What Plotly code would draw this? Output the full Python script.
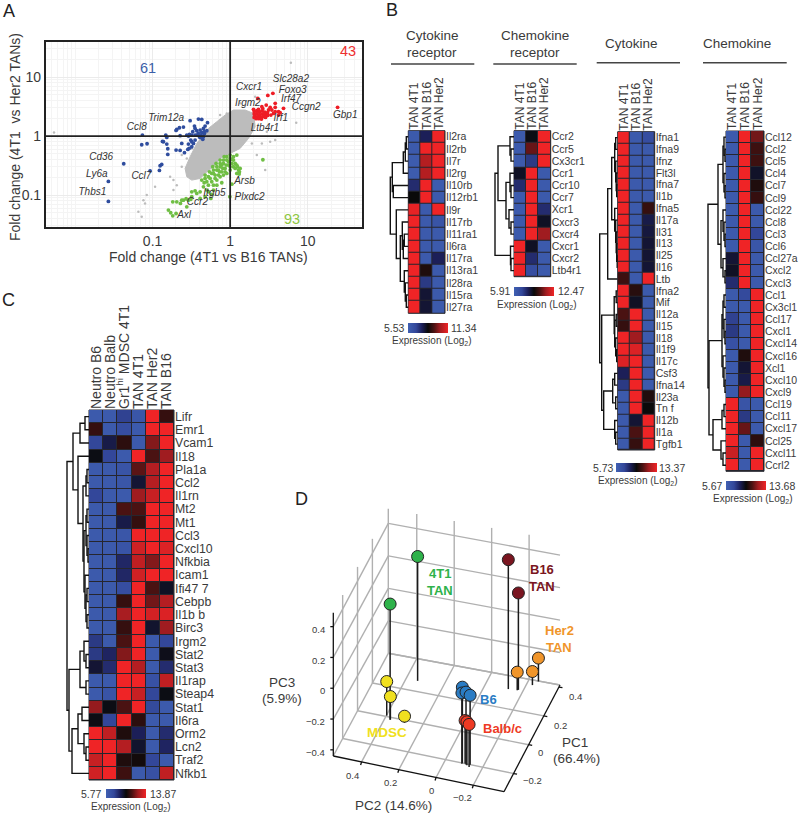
import numpy as np
import plotly.graph_objects as go

W, H = 800, 814
FONT = "Liberation Sans"
TXT = "#3a3a3a"
CS = [[0, "#3f60b2"], [0.2, "#33479a"], [0.35, "#1c1f58"], [0.5, "#0a0a0a"],
      [0.65, "#4a1212"], [0.8, "#a01c20"], [1, "#ef2426"]]

# ---------- Panel A: log10 fold changes ----------
red_x = [.357,.486,.551,.581,.465,.409,.516,.581,.688,.624,1.385,.452,.559,.31,.344,.378,.413,.447,.482,.31,.344,.378,.413,.447,.482,.525,.318,.353,.387,.421,.456,.335,.37,.404,.31,.366,.421,.495,.624,.538,.581,.645,.301]
red_y = [.638,.689,.723,.554,.525,.497,.486,.486,.469,.412,.486,.384,.384,.412,.429,.412,.424,.407,.395,.373,.379,.362,.373,.362,.35,.356,.333,.328,.322,.328,.316,.294,.294,.288,.316,.452,.463,.441,.356,.441,.412,.395,.452]
blue_x = [-1.131,-1.14,-1.071,-.83,-.86,-.817,-.804,-.804,-.873,-1.372,-1.57,-1.57,-1.032,-.903,-.882,-.912,-.688,-.654,-.516,-.409,-.366,-.46,-.482,-.525,-.495,-.43,-.387,-.344,-.292,-.323,-.602,-.697,-.409,-.374,-.344,-.387,-.43,-.331,-.645,-.538,-.495,-.538,-.473,-.529,-.495,-.624,-.645,-.589,-.697,-.546,-.452,-.366,-.396,-.301,-.353,-.335,-.559,-.452,-.508,-.817,-.452]
blue_y = [.017,-.147,-.13,.017,-.096,-.136,-.215,-.311,-.09,-.469,-.768,-1.107,-.588,-.503,-.48,-.582,.113,.141,.26,.288,.282,.169,.073,.028,.017,.09,.102,.13,.226,.169,.153,.096,.045,.017,-.011,-.023,.017,.045,.006,0,-.096,-.136,-.124,-.209,-.181,-.124,-.243,-.282,-.237,-.226,.13,.062,-.011,.09,-.056,.073,.017,.017,-.068,-.023,-.068]
green_x = [.422,.022,-.004,-.74,-.641,-.796,-.766,-.74,-.559,-.568,-.508,-.495,-.452,-.323,-.335,-.28,-.237,-.215,-.172,-.129,-.086,-.043,0,.043,.086,.022,-.022,-.086,-.129,-.172,-.215,-.258,-.301,-.237,-.194,-.151,-.108,-.065,-.022,.022,.065,.108,.12,.086,.043,0,-.065,-.129,-.172,-.108,-.215,-.28,-.237,-.387,-.538,-.43,-.344,-.28,-.215,-.172,-.086,-.043,-.151,-.194,-.108,-.043,0,.043,-.077,-.129,-.366,-.323,-.267,-.224,-.181,-.138,-.095,-.052,0,.065,.095,.129,.116,.086,-.688,-.602,-.624,-.495,-.387,-.301,-.323,-.249,-.697]
green_y = [-.401,-.814,-1.028,-1.113,-1.141,-1.254,-1.299,-1.35,-1.198,-1.062,-1.073,-.944,-.927,-.718,-.791,-.689,-.633,-.576,-.52,-.463,-.407,-.35,-.322,-.35,-.322,-.395,-.435,-.463,-.52,-.576,-.633,-.718,-.774,-.774,-.718,-.661,-.605,-.548,-.492,-.463,-.463,-.576,-.605,-.633,-.52,-.576,-.605,-.689,-.831,-.791,-.915,-.944,-.989,-1.056,-1.085,-.972,-.859,-.831,-.831,-.746,-.661,-.633,-.576,-.661,-.492,-.407,-.379,-.407,-.35,-.407,-.746,-.661,-.605,-.52,-.463,-.605,-.548,-.492,-.52,-.548,-.52,-.548,-.644,-.492,-1.113,-1.085,-1.085,-1.028,-.944,-.915,-1.028,-1.056,-1.311]
gray_x = [.783,.852,.581,.473,-2.271,-.624,-.731,-.774,-.968,-1.075,-1.097,-1.183,-1.14,-1.118,-.731,-.688,-.624,-.559,-.495,-.409,-.387,.344,.452,.28,.409,.516,.215,-.129,-.043,-.215,.323,.129]
gray_y = [1.243,.226,-.068,.073,.062,-.52,-.746,-.689,-.859,-1,-1.141,-1.282,-1.367,-1.085,-.915,-.831,-.322,-.379,-.209,-.181,-.096,-.322,-.576,-.124,-.124,-.096,.328,.356,.384,.158,.667,.554]
cloud_x = [-.559,-.495,-.387,-.301,-.215,-.129,0,.129,.237,.323,.301,.194,.043,-.065,-.172,-.28,-.344,-.43,-.516,-.581]
cloud_y = [-.689,-.746,-.718,-.605,-.52,-.379,-.294,-.209,-.04,.158,.384,.441,.441,.356,.243,.13,.017,-.124,-.35,-.548]
gene_x = [.783,.243,.806,.786,.228,.981,1.484,.653,-.825,.449,-1.204,-1.662,-1.718,-1.144,-1.776,.185,-.202,.25,-.422,-.593]
gene_y = [.96,.819,.773,.62,.554,.486,.344,.299,.299,.13,.141,-.367,-.655,-.678,-.96,-.777,-.977,-1.045,-1.119,-1.339]
gene_names = ["Slc28a2","Cxcr1","Foxo3","Irf47","Irgm2","Ccgn2","Gbp1","Irf1","Trim12a","Ltb4r1","Ccl8","Cd36","Ly6a","Ccl7","Thbs1","Arsb","Itgb5","Plxdc2","Ccr2","Axl"]

# ---------- Panel B ----------
cols_b = ["TAN 4T1", "TAN B16", "TAN Her2"]
cyto_rec_genes = ["Il2ra","Il2rb","Il7r","Il2rg","Il10rb","Il12rb1","Il9r","Il17rb","Il11ra1","Il6ra","Il17ra","Il13ra1","Il28ra","Il15ra","Il27ra"]
cyto_rec_vals = [[.05,.35,1],[.05,1,1],[.03,.85,1],[.03,.85,1],[.3,1,.03],[.5,1,.05],[.98,.05,1],[1,.05,.1],[1,.05,.05],[1,.05,.05],[1,.05,.35],[1,.55,.05],[1,.25,.05],[1,.42,.05],[1,.42,.05]]
chem_rec_genes = ["Ccr2","Ccr5","Cx3cr1","Ccr1","Ccr10","Ccr7","Xcr1","Cxcr3","Cxcr4","Cxcr1","Cxcr2","Ltb4r1"]
chem_rec_vals = [[.05,.48,1],[.05,.7,1],[.05,.25,1],[.45,1,.05],[.3,1,.05],[.05,1,.05],[.05,1,.3],[.05,1,.45],[.05,1,.8],[1,.45,.05],[1,.3,.05],[1,.15,.05]]
cyto_genes = ["Ifna1","Ifna9","Ifnz","Flt3l","Ifna7","Il1b","Ifna5","Il17a","Il31","Il13","Il25","Il16","Ltb","Ifna2","Mif","Il12a","Il15","Il18","Il1f9","Il17c","Csf3","Ifna14","Il23a","Tn f","Il12b","Il1a","Tgfb1"]
cyto_vals = [[1,.05,.15],[1,.05,.05],[1,.05,.05],[1,.05,.05],[1,.05,.05],[1,.05,.05],[1,.05,.6],[1,.05,.38],[1,.05,.4],[1,.05,.42],[1,.05,.42],[1,.05,.42],[.62,.05,1],[1,.57,.05],[1,.45,.05],[.65,1,.05],[.6,1,.05],[1,.8,.05],[1,.95,.05],[.95,1,.05],[.35,1,.05],[.25,1,.05],[.05,1,.55],[.05,1,.5],[.05,.42,1],[.05,.65,1],[.05,.6,1]]
chem_genes = ["Ccl12","Ccl2","Ccl5","Ccl4","Ccl7","Ccl9","Ccl22","Ccl8","Ccl3","Ccl6","Ccl27a","Cxcl2","Cxcl3","Ccl1","Cx3cl1","Ccl17","Cxcl1","Cxcl14","Cxcl16","Xcl1","Cxcl10","Cxcl9","Ccl19","Ccl11","Cxcl17","Ccl25","Cxcl11","Ccrl2"]
chem_vals = [[.05,1,.72],[.05,1,.62],[.05,1,.62],[.05,1,.44],[.05,1,.55],[.05,1,.6],[.03,1,.05],[.05,1,.05],[.05,1,.2],[.05,1,.08],[.42,1,.05],[.45,1,.05],[.3,1,.05],[.05,.18,1],[.05,.05,1],[.22,.05,1],[.25,.05,1],[.12,.05,1],[.05,.55,1],[.05,.42,1],[.05,.38,1],[.05,.78,1],[1,.1,.05],[1,.25,.05],[1,.7,.05],[1,.05,.58],[.9,.05,1],[1,.05,1]]

# ---------- Panel C ----------
cols_c = ["Neutro B6","Neutro Balb","Gr1<sup>hi</sup> MDSC 4T1","TAN 4T1","TAN Her2","TAN B16"]
c_genes = ["Lifr","Emr1","Vcam1","Il18","Pla1a","Ccl2","Il1rn","Mt2","Mt1","Ccl3","Cxcl10","Nfkbia","Icam1","Ifi47 7","Cebpb","Il1b b","Birc3","Irgm2","Stat2","Stat3","Il1rap","Steap4","Stat1","Il6ra","Orm2","Lcn2","Traf2","Nfkb1"]
c_vals = [[.05,.05,.22,.08,1,.6],[.6,.05,.15,.05,1,1],[.2,.38,.58,.05,.75,1],[.48,.2,.05,1,.65,.8],[.05,.05,.1,.68,.85,1],[.05,.05,.08,.42,.85,1],[.2,.05,.05,.8,.9,1],[.05,.05,.65,.65,1,1],[.05,.05,.38,.6,1,1],[.05,.05,.08,1,1,1],[.05,.05,.1,.92,1,.95],[.05,.05,.32,.88,.75,1],[.05,.05,.32,.92,1,1],[.05,.05,.15,1,.65,.45],[.05,.05,.6,1,.72,.85],[.05,.05,.82,1,.93,.95],[.05,.05,.6,1,.43,.8],[.25,.05,.65,1,.05,.2],[.25,.33,.75,1,.05,.47],[.42,.3,1,.85,.05,.3],[.05,.05,1,1,.12,.88],[.05,.1,1,.9,.2,.48],[.78,.48,.65,1,.18,.05],[.48,.2,1,.58,.05,.05],[1,.88,.55,.35,.05,.3],[1,1,.85,.43,.05,.33],[.9,1,.55,.52,.2,.05],[.92,1,.62,.05,.12,.88]]

# Dendrograms: (merge height, left, right); integers are rows
tree_cyto_rec = (18,(16,(5,(3,(2,0,1),2),3),(15,4,5)),(12,6,(8,(6,7,(5,(4,8,9),10)),(4,11,(3,12,(2,13,14))))))
tree_chem_rec = (19,(16,(4,0,(3,1,2)),(8,(4,3,(3,4,5)),(5,6,(3,7,8)))),(3.5,9,(3,10,11)))
tree_cyto = (18,(10,(6,(3,(2,0,1),(2,2,(1.5,3,(1,4,5)))),(3,6,(2,7,(1.5,8,(1,9,(.5,10,11)))))),12),
             (16,(3.5,(1.5,13,14),(3,(1.5,15,16),(2,17,(1,18,19)))),(14,(5,(3,20,21),(2,22,23)),(3,24,(2,25,26)))))
tree_chem = (18,(8,(3,(2,0,(1,1,2)),(2,3,(1,4,5))),(5,(3,6,(2,7,(1,8,9))),(3,10,(1,11,12)))),
             (17,(4,(3,(2,13,14),(2,15,(1,16,17))),(3,18,(2,19,(1,20,21)))),(13,(4,(2,22,23),24),(5,25,(3,26,27)))))
tree_c = (22,(16,(9,(4,0,1),2),(11,3,(6,(3,(2,4,5),6),(5,(3,(2,7,8),(2,9,(1,10,11))),(4,12,(3,(2,13,14),(2,15,16))))))),
          (20,(9,(5,17,(3,18,19)),(3,20,21)),(17,(11,(7,22,23),(5,24,(3,25,26))),27)))

# ---------- Panel D ----------
pts_green_1 = [.27, -.016]; pts_green_2 = [.338, .371]; pts_green_3 = [.366, .311]
pts_yellow_1 = [.006, -.015, -.018]; pts_yellow_2 = [.398, .37, .293]; pts_yellow_3 = [-.206, -.277, -.381]
pts_blue_1 = [-.199, -.205, -.205, -.2]; pts_blue_2 = [-.09, -.09, -.112, -.132]; pts_blue_3 = [.054, .022, .033, .013]
pts_red_1 = [-.2, -.208, -.216]; pts_red_2 = [-.105, -.118, -.133]; pts_red_3 = [-.156, -.154, -.16]
pts_dark_1 = [.327, .334]; pts_dark_2 = [-.124, -.175]; pts_dark_3 = [.397, .196]
pts_orange_1 = [.331, .381, .411]; pts_orange_2 = [-.17, -.231, -.251]; pts_orange_3 = [-.293, -.318, -.256]
pc1_ticks = [-.2, 0, .2, .4]
pc2_ticks = [.4, .2, 0, -.2]
pc3_ticks = [-.4, -.2, 0, .2, .4]

fig = go.Figure()
lay = {}
annos = []
shapes = []
n_ax = [1]


def dx(l, r):
    return [l / W, r / W]


def dy(t, b):
    return [1 - b / H, 1 - t / H]


def note(x, y, text, size=10, color=TXT, anchor="center", angle=0):
    annos.append(dict(x=x, y=y, xref="x", yref="y", text=text, showarrow=False,
                      font=dict(size=size, color=color, family=FONT), xanchor=anchor, yanchor="middle",
                      textangle=angle, borderpad=0, borderwidth=0))


def new_axes():
    n_ax[0] += 1
    return n_ax[0]


lay["xaxis"] = dict(domain=[0, 1], range=[0, W], visible=False, fixedrange=True)
lay["yaxis"] = dict(domain=[0, 1], range=[H, 0], visible=False, fixedrange=True)


def walk(node, xs, ys):
    if isinstance(node, int):
        return node, 0
    h, a, b = node
    ya, ha = walk(a, xs, ys)
    yb, hb = walk(b, xs, ys)
    xs += [ha, h, h, hb, None]
    ys += [ya, ya, yb, yb, None]
    return (ya + yb) / 2, h


def heat(cols, genes, vals, tree, l, r, t, b, lo, hi, fs_row, fs_col, cb, cb_lo_x, cb_hi_x, expr, cb_fs=10):
    i = new_axes()
    sfx = str(i)
    arr = lo + np.array(vals, dtype=float) * (hi - lo)
    nr, nc = arr.shape
    shapes.append(dict(type="rect", xref="paper", yref="paper", x0=l / W, x1=r / W, y0=1 - b / H, y1=1 - t / H,
                       fillcolor="#26262e", line=dict(width=1, color="#26262e"), layer="below"))
    fig.add_trace(go.Heatmap(z=arr, x=list(range(nc)), y=list(range(nr)), colorscale=CS, zmin=lo, zmax=hi,
                             xgap=1, ygap=1, xaxis="x" + sfx, yaxis="y" + sfx, hoverinfo="skip", showscale=True,
                             colorbar=dict(orientation="h", x=cb[0] / W, xanchor="left", y=1 - cb[2] / H, yanchor="top",
                                           len=cb[1] - cb[0], lenmode="pixels", thickness=cb[3] - cb[2],
                                           thicknessmode="pixels", xpad=0, ypad=0, showticklabels=False, ticks="",
                                           outlinewidth=0)))
    lay["xaxis" + sfx] = dict(domain=dx(l, r), range=[-.5, nc - .5], side="top", anchor="y" + sfx, tickmode="array",
                              tickvals=list(range(nc)), ticktext=cols, tickangle=-90, ticklen=0, showgrid=False,
                              zeroline=False, showline=False, tickfont=dict(size=fs_col, color=TXT, family=FONT),
                              fixedrange=True)
    lay["yaxis" + sfx] = dict(domain=dy(t, b), range=[nr - .5, -.5], side="right", anchor="x" + sfx, tickmode="array",
                              tickvals=list(range(nr)), ticktext=genes, ticklen=0, showgrid=False, zeroline=False,
                              showline=False, tickfont=dict(size=fs_row, color=TXT, family=FONT), fixedrange=True)
    j = new_axes()
    lay["xaxis" + str(j)] = dict(domain=dx(l - 24, l), range=[24, 0], visible=False, anchor="y" + sfx, fixedrange=True)
    xs, ys = [], []
    walk(tree, xs, ys)
    fig.add_trace(go.Scatter(x=xs, y=ys, mode="lines", line=dict(color="#111111", width=1.4), xaxis="x" + str(j),
                             yaxis="y" + sfx, hoverinfo="skip", cliponaxis=False))
    ym = (cb[2] + cb[3]) / 2
    note(cb_lo_x, ym, f"{lo:.2f}", cb_fs + .5, anchor="right")
    note(cb_hi_x, ym, f"{hi:.2f}", cb_fs + .5, anchor="left")
    note(expr[0], expr[1], "Expression (Log<sub>2</sub>)", cb_fs, anchor="center")


# ---------- Panel A drawing ----------
ia = new_axes()
sa = str(ia)
xr = [-2.378, 1.70]
yr = [-1.54, 1.598]
grid = dict(showgrid=True, gridcolor="#ebebeb", gridwidth=1, minor=dict(showgrid=True, gridcolor="#f4f4f4", gridwidth=1, dtick="D1", ticks=""))
lay["xaxis" + sa] = dict(domain=dx(45.7, 362), type="log", range=xr, anchor="y" + sa, tickmode="array", tickvals=[.1, 1, 10],
                         ticktext=["0.1", "1", "10"], ticklen=0, zeroline=False, showline=True, mirror=True,
                         linecolor="#222222", linewidth=1.5, tickfont=dict(size=14, color=TXT, family=FONT), fixedrange=True, **grid)
lay["yaxis" + sa] = dict(domain=dy(41.7, 227), type="log", range=yr, anchor="x" + sa, tickmode="array", tickvals=[.1, 1, 10],
                         ticktext=["0.1", "1", "10"], ticklen=0, zeroline=False, showline=True, mirror=True,
                         linecolor="#222222", linewidth=1.5, tickfont=dict(size=14, color=TXT, family=FONT), fixedrange=True, **grid)


def pw(a):
    return (10 ** np.array(a, dtype=float)).tolist()


kw = dict(xaxis="x" + sa, yaxis="y" + sa, hoverinfo="skip")
fig.add_trace(go.Scatter(x=pw(cloud_x + cloud_x[:1]), y=pw(cloud_y + cloud_y[:1]), mode="lines", fill="toself",
                         fillcolor="#bcbcbc", line=dict(color="#bcbcbc", width=1), **kw))
fig.add_trace(go.Scatter(x=pw(gray_x), y=pw(gray_y), mode="markers", marker=dict(size=2.5, color="#bcbcbc"), **kw))
for ax_, ay_, col, sz in [(blue_x, blue_y, "#2f4d9e", 3.8), (green_x, green_y, "#6fbe44", 3.8), (red_x, red_y, "#ee1c25", 3.8)]:
    fig.add_trace(go.Scatter(x=pw(ax_), y=pw(ay_), mode="markers", marker=dict(size=sz, color=col), **kw))
fig.add_trace(go.Scatter(x=[10 ** xr[0], 10 ** xr[1], None, 1, 1], y=[1, 1, None, 10 ** yr[0], 10 ** yr[1]], mode="lines",
                         line=dict(color="#222222", width=1.8), **kw))
fig.add_trace(go.Scatter(x=pw(gene_x), y=pw(gene_y), mode="text", text=[f"<i>{g}</i>" for g in gene_names],
                         textfont=dict(size=10, color="#333333", family=FONT), textposition="middle center", **kw))
note(148, 67.5, "61", 14.5, "#3a5ea8")
note(348, 51, "43", 14.5, "#ee2e2e")
note(291.5, 219, "93", 14.5, "#8dc63f")
note(208, 257, "Fold change (4T1 vs B16 TANs)", 14)
note(15, 137, "Fold change (4T1  vs Her2 TANs)", 14, angle=-90)

# ---------- Heatmaps ----------
heat(cols_b, cyto_rec_genes, cyto_rec_vals, tree_cyto_rec, 408.3, 445, 130.7, 313.3, 5.53, 11.34, 10.5, 12,
     (408, 448.3, 322.7, 332.3), 405, 451, (431.7, 341))
heat(cols_b, chem_rec_genes, chem_rec_vals, tree_chem_rec, 514, 550.7, 130.7, 276.7, 5.91, 12.47, 10.5, 12,
     (514, 554.3, 286.7, 296), 510.7, 557.7, (537, 305))
heat(cols_b, cyto_genes, cyto_vals, tree_cyto, 617.7, 654.7, 131.7, 450, 5.73, 13.37, 10.5, 12,
     (616, 656.7, 463.3, 472), 614, 659.3, (638.3, 481))
heat(cols_b, chem_genes, chem_vals, tree_chem, 726, 764, 131, 471.3, 5.67, 13.68, 10.5, 12,
     (726, 766, 481.3, 490.7), 722.7, 769.3, (752.7, 499.3))
heat(cols_c, c_genes, c_vals, tree_c, 89, 174, 410, 780, 5.77, 13.87, 12.3, 14,
     (105.7, 146, 789.3, 798.3), 101.7, 150, (131, 807))

for x0, x1, y0 in [(391, 474.3, 64), (493.3, 576.7, 64), (596.7, 680, 62.7), (703, 786.7, 62.7)]:
    shapes.append(dict(type="line", xref="x", yref="y", x0=x0, x1=x1, y0=y0, y1=y0, line=dict(color="#444444", width=1.5)))
note(432.3, 35, "Cytokine", 13.5)
note(432.3, 52.3, "receptor", 13.5)
note(535, 35, "Chemokine", 13.5)
note(535, 52.3, "receptor", 13.5)
note(631.7, 43.3, "Cytokine", 13.5)
note(736.7, 43.3, "Chemokine", 13.5)

note(9, 11, "A", 18, "#222222")
note(391.5, 10, "B", 18, "#222222")
note(8, 300, "C", 18, "#222222")
note(301, 499, "D", 18, "#222222")


# ---------- Panel D: projection of the three PCs onto the page ----------
A_, B_, C_, D_ = np.array([333.3, 756]), np.array([504, 791.7]), np.array([560, 685]), np.array([388.3, 653.3])


def floor(p1, p2):
    v = (p1 + .326) / .74
    u = (.552 - p2) / .917
    return (1 - u) * (1 - v) * A_ + u * (1 - v) * B_ + u * v * C_ + (1 - u) * v * D_, v


def proj(p1, p2, p3):
    b, v = floor(p1, p2)
    z0 = -.44 + .04 * v
    k = (462 + 25 * v) / 3
    return b[0], b[1] - (p3 - z0) * k


def proj_floor(p1, p2):
    b, _ = floor(p1, p2)
    return b[0], b[1]


P1A, P1B = -.326, -.326 + .74
P2A, P2B = .552, .552 - .917
gx, gy = [], []


def seg(a, b):
    gx.extend([a[0], b[0], None])
    gy.extend([a[1], b[1], None])


for t in pc1_ticks[:-1] + [P1B]:
    seg(proj_floor(t, P2A), proj_floor(t, P2B))
for t in pc2_ticks:
    seg(proj_floor(P1A, t), proj_floor(P1B, t))
for z in pc3_ticks:
    if z > -.4:
        seg(proj(P1A, P2A, z), proj(P1B, P2A, z))
        seg(proj(P1B, P2A, z), proj(P1B, P2B, z))
seg(proj_floor(P1A, P2A), proj_floor(P1B, P2A))
seg(proj_floor(P1B, P2A), proj_floor(P1B, P2B))
for t in pc1_ticks[:-1]:
    seg(proj_floor(t, P2A), proj(t, P2A, .49))
seg(proj_floor(P1B, P2A), proj(P1B, P2A, .49))
for t in pc2_ticks:
    seg(proj_floor(P1B, t), proj(P1B, t, .49))
fig.add_trace(go.Scatter(x=gx, y=gy, mode="lines", line=dict(color="#b0b0b0", width=1.4), hoverinfo="skip"))

bx, by = [], []
for a, b in [(proj_floor(P1A, P2A), proj_floor(P1A, P2B)), (proj_floor(P1A, P2B), proj_floor(P1B, P2B)),
             (proj_floor(P1A, P2A), (proj_floor(P1A, P2A)[0], proj(P1A, P2A, .49)[1]))]:
    bx += [a[0], b[0], None]
    by += [a[1], b[1], None]
for t in pc2_ticks:
    q = proj_floor(P1A, t)
    bx += [q[0], q[0] - 1, None]
    by += [q[1], q[1] + 3, None]
for t in pc1_ticks:
    q = proj_floor(t, P2B)
    bx += [q[0], q[0] + 3.5, None]
    by += [q[1], q[1] + .7, None]
a0 = proj_floor(P1A, P2A)
for z in pc3_ticks:
    yy = proj(P1A, P2A, z)[1]
    bx += [a0[0], a0[0] - 3, None]
    by += [yy, yy, None]
fig.add_trace(go.Scatter(x=bx, y=by, mode="lines", line=dict(color="#111111", width=1.3), hoverinfo="skip"))

groups = [(pts_green_1, pts_green_2, pts_green_3, "#2eb24a"),
          (pts_dark_1, pts_dark_2, pts_dark_3, "#7a1520"),
          (pts_orange_1, pts_orange_2, pts_orange_3, "#f0952a"),
          (pts_yellow_1, pts_yellow_2, pts_yellow_3, "#f0e020"),
          (pts_blue_1, pts_blue_2, pts_blue_3, "#2a7cc4"),
          (pts_red_1, pts_red_2, pts_red_3, "#ee3a24")]
sx, sy = [], []
for g in groups:
    for p1, p2, p3 in zip(g[0], g[1], g[2]):
        f = proj_floor(p1, p2)
        q = proj(p1, p2, p3)
        sx += [f[0], q[0], None]
        sy += [f[1], q[1], None]
fig.add_trace(go.Scatter(x=sx, y=sy, mode="lines", line=dict(color="#1a1a1a", width=1.5), hoverinfo="skip"))
for g in groups:
    qs = [proj(a, b, c) for a, b, c in zip(g[0], g[1], g[2])]
    fig.add_trace(go.Scatter(x=[q[0] for q in qs], y=[q[1] for q in qs], mode="markers",
                             marker=dict(size=12, color=g[3], line=dict(color="#222222", width=1)), hoverinfo="skip"))

for z, yy in zip(["0.4", "0.2", "0", "\u22120.2", "\u22120.4"], [629, 660, 690.7, 721.7, 752.3]):
    note(325, yy, z, 9.5, anchor="right")
for t, xx, yy in [("0.4", 352.7, 775), ("0.2", 390, 782.7), ("0", 431, 790), ("\u22120.2", 462.7, 797.3)]:
    note(xx, yy, t, 9.5)
for t, xx, yy in [("0.4", 575, 696), ("0.2", 560, 725), ("0", 540.7, 752.7), ("\u22120.2", 532.7, 780.7)]:
    note(xx, yy, t, 9.5)
note(282, 682, "PC3", 13.5)
note(282, 698, "(5.9%)", 13.5)
note(575, 742, "PC1", 13.5)
note(576, 758, "(66.4%)", 13.5)
note(393, 805, "PC2 (14.6%)", 13.5)
note(440, 573.3, "<b>4T1</b>", 13, "#2eb24a")
note(440, 590, "<b>TAN</b>", 13, "#2eb24a")
note(542, 569, "<b>B16</b>", 13, "#7a1520")
note(542, 586, "<b>TAN</b>", 13, "#7a1520")
note(559, 630, "<b>Her2</b>", 13, "#f0952a")
note(559, 647, "<b>TAN</b>", 13, "#f0952a")
note(387, 732, "<b>MDSC</b>", 13.5, "#f0e020")
note(488, 699, "<b>B6</b>", 13, "#2a7cc4")
note(502, 728, "<b>Balb/c</b>", 13, "#ee3a24")

fig.update_layout(width=W, height=H, margin=dict(l=0, r=0, t=0, b=0, autoexpand=False), showlegend=False,
                  paper_bgcolor="white", plot_bgcolor="rgba(0,0,0,0)", annotations=annos, shapes=shapes,
                  font=dict(family=FONT, color=TXT), **lay)
fig.write_html("out.html", config=dict(displayModeBar=False),
               post_script="document.body.style.margin='0';document.documentElement.style.overflow='hidden';")
